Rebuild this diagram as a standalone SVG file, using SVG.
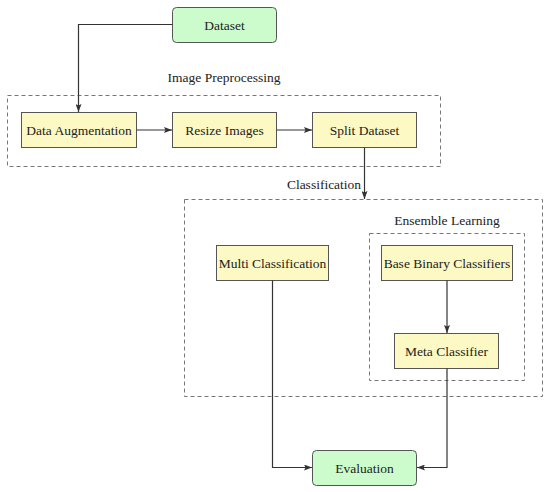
<svg xmlns="http://www.w3.org/2000/svg" width="550" height="492" viewBox="0 0 550 492" font-family="'Liberation Serif', 'DejaVu Serif', serif">
<style>
text{font-family:'Liberation Serif','Times New Roman','DejaVu Serif',serif;font-size:13.5px;fill:#222;text-anchor:middle}
.proc{fill:#fdf9c4;stroke:#555;stroke-width:1}
.term{fill:#ccfccc;stroke:#555;stroke-width:1}
.grp{fill:none;stroke:#777;stroke-width:1;stroke-dasharray:4 3}
.c{fill:none;stroke:#333;stroke-width:1.2}
</style>
<defs>
<marker id="ah" viewBox="0 0 8 6" refX="8" refY="3" markerWidth="8" markerHeight="6" markerUnits="userSpaceOnUse" orient="auto">
<path d="M0,0 L8,3 L0,6 L1.5,3 Z" fill="#333"/>
</marker>
</defs>
<g id="group-preprocessing">
<rect class="grp" x="7.5" y="95.5" width="433" height="71"/>
<text x="224" y="82">Image Preprocessing</text>
</g>
<g id="group-classification">
<rect class="grp" x="184.5" y="199.5" width="358" height="197"/>
<text x="324" y="189">Classification</text>
</g>
<g id="group-ensemble">
<rect class="grp" x="369.5" y="233.5" width="155" height="147"/>
<text x="447" y="225">Ensemble Learning</text>
</g>
<g id="node-dataset">
<rect class="term" x="172.5" y="7.5" width="104" height="35" rx="4"/>
<text x="224.5" y="29.5">Dataset</text>
</g>
<g id="node-augmentation">
<rect class="proc" x="21.5" y="112.5" width="115" height="35"/>
<text x="79" y="134.5">Data Augmentation</text>
</g>
<g id="node-resize">
<rect class="proc" x="172.5" y="112.5" width="104" height="35"/>
<text x="224.5" y="134.5">Resize Images</text>
</g>
<g id="node-split">
<rect class="proc" x="312.5" y="112.5" width="104" height="35"/>
<text x="364.5" y="134.5">Split Dataset</text>
</g>
<g id="node-multi">
<rect class="proc" x="216.5" y="245.5" width="112" height="35"/>
<text x="272.5" y="267.5">Multi Classification</text>
</g>
<g id="node-base">
<rect class="proc" x="381.5" y="245.5" width="131" height="35"/>
<text x="447" y="267.5">Base Binary Classifiers</text>
</g>
<g id="node-meta">
<rect class="proc" x="394.5" y="333.5" width="104" height="35"/>
<text x="446.5" y="355.5">Meta Classifier</text>
</g>
<g id="node-evaluation">
<rect class="term" x="312.5" y="450.5" width="104" height="35" rx="4"/>
<text x="364.5" y="472.5">Evaluation</text>
</g>
<g id="connectors">
<path class="c" d="M172.5,24.5 H78.5 V112" marker-end="url(#ah)"/>
<path class="c" d="M136.5,130 H172" marker-end="url(#ah)"/>
<path class="c" d="M276.5,130 H312" marker-end="url(#ah)"/>
<path class="c" d="M364.5,147.5 V199" marker-end="url(#ah)"/>
<path class="c" d="M447,280.5 V333" marker-end="url(#ah)"/>
<path class="c" d="M272.5,280.5 V467.5 H312" marker-end="url(#ah)"/>
<path class="c" d="M447,368.5 V467.5 H417" marker-end="url(#ah)"/>
</g>
</svg>
